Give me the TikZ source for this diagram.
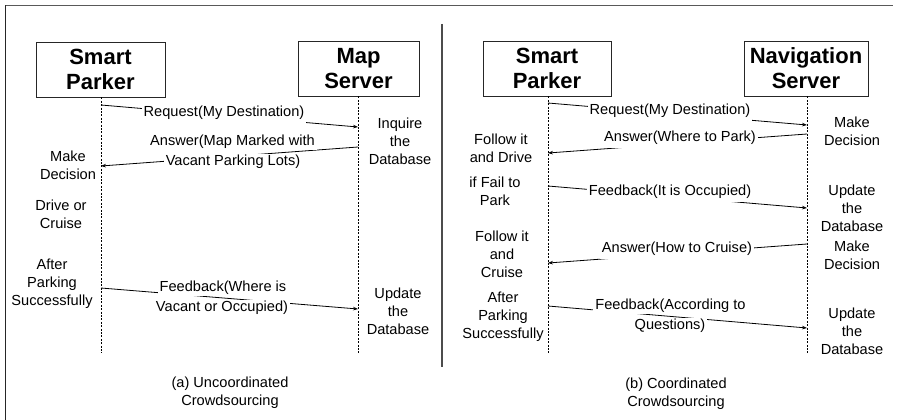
\documentclass[tikz,border=0pt]{standalone}
\usepackage{fontspec}
\setmainfont{Liberation Sans}
\usetikzlibrary{arrows.meta}
\begin{document}
\begin{tikzpicture}[x=1pt,y=-1pt,
  actor/.style={draw=black!85,line width=0.9pt,font=\fontsize{22}{25}\selectfont\bfseries,align=center,inner sep=0pt,minimum height=55pt},
  lbl/.style={font=\fontsize{14.6}{18}\selectfont,align=center,inner sep=0pt},
  msg/.style={font=\fontsize{14.6}{18}\selectfont,fill=white,inner xsep=2pt,inner ysep=1pt},
  msgtall/.style={msg,inner ysep=3.5pt},
  life/.style={line width=0.6pt,dash pattern=on 2pt off 1.4pt},
  arr/.style={line width=0.8pt,-{Stealth[length=5pt,width=3.6pt]}},
]
\useasboundingbox (0,0) rectangle (897,420);
% frame and divider
\coordinate (fbl) at (5.5,420);
\coordinate (ftl) at (5.5,5.5);
\coordinate (ftr) at (893,5.5);
\draw[line width=1.6pt,black!85] (fbl) -- (ftl);
\draw[line width=1.4pt,black!65] (ftl) -- (ftr);
\coordinate (dvt) at (442,24);
\coordinate (dvb) at (442,367);
\draw[line width=2pt,black!70] (dvt) -- (dvb);

% ---------- panel (a) ----------
\node[actor,minimum width=129pt] (spa) at (100.5,69.5) {Smart\\Parker};
\node[actor,minimum width=121pt] (msa) at (358.5,68.5) {Map\\Server};
\coordinate (spaend) at (101,353);
\coordinate (msaend) at (358,353);
\draw[life] (spa.south -| spaend) -- (spaend);
\draw[life] (msa.south -| msaend) -- (msaend);

\coordinate (a1s) at (101,105); \coordinate (a1e) at (358,127);
\coordinate (a2s) at (358,147); \coordinate (a2e) at (101,166);
\coordinate (a3s) at (101,288); \coordinate (a3e) at (358,309);
\draw[arr] (a1s) -- (a1e);
\draw[arr] (a2s) -- (a2e);
\draw[arr] (a3s) -- (a3e);

\node[msgtall] (a1t) at (224,113) {Request(My Destination)};
\node[msg] (a2t) at (232.5,142) {Answer(Map Marked with};
\node[msg] (a2u) at (233,162) {Vacant Parking Lots)};
\node[msg] (a3t) at (223,288) {Feedback(Where is};
\node[msg] (a3u) at (222,308) {Vacant or Occupied)};

\node[lbl] (la1) at (68,165) {Make\\Decision};
\node[lbl] (la2) at (61,214) {Drive or\\Cruise};
\node[lbl] (la3) at (52,284) {After\\Parking\\Successfully};
\node[lbl] (ra1) at (400,141) {Inquire\\the\\Database};
\node[lbl] (ra2) at (398,311) {Update\\the\\Database};
\node[lbl] (capa) at (230,393) {(a) Uncoordinated\\Crowdsourcing};

% ---------- panel (b) ----------
\node[actor,minimum width=128pt] (spb) at (547,68.5) {Smart\\Parker};
\node[actor,minimum width=124pt] (nsb) at (806,68.5) {Navigation\\Server};
\coordinate (spbend) at (548,353);
\coordinate (nsbend) at (807,353);
\draw[life] (spb.south -| spbend) -- (spbend);
\draw[life] (nsb.south -| nsbend) -- (nsbend);

\coordinate (b1s) at (548,103); \coordinate (b1e) at (807,125);
\coordinate (b2s) at (807,134); \coordinate (b2e) at (548,153);
\coordinate (b3s) at (548,186); \coordinate (b3e) at (807,208);
\coordinate (b4s) at (807,244); \coordinate (b4e) at (548,263);
\coordinate (b5s) at (548,306); \coordinate (b5e) at (807,328);
\draw[arr] (b1s) -- (b1e);
\draw[arr] (b2s) -- (b2e);
\draw[arr] (b3s) -- (b3e);
\draw[arr] (b4s) -- (b4e);
\draw[arr] (b5s) -- (b5e);

\node[msgtall] (b1t) at (670,111) {Request(My Destination)};
\node[msgtall] (b2t) at (680,138) {Answer(Where to Park)};
\node[msgtall] (b3t) at (670,192) {Feedback(It is Occupied)};
\node[msgtall] (b4t) at (677,249) {Answer(How to Cruise)};
\node[msg] (b5t) at (670.5,306) {Feedback(According to};
\node[msg] (b5u) at (670,326) {Questions)};

\node[lbl] (lb1) at (501,148) {Follow it\\and Drive};
\node[lbl] (lb2) at (495,191) {if Fail to\\Park};
\node[lbl] (lb3) at (502,254) {Follow it\\and\\Cruise};
\node[lbl] (lb4) at (503,317) {After\\Parking\\Successfully};
\node[lbl] (rb1) at (852,131) {Make\\Decision};
\node[lbl] (rb2) at (852,208) {Update\\the\\Database};
\node[lbl] (rb3) at (852,255) {Make\\Decision};
\node[lbl] (rb4) at (852,331) {Update\\the\\Database};
\node[lbl] (capb) at (676,394) {(b) Coordinated\\Crowdsourcing};
\end{tikzpicture}
\end{document}
